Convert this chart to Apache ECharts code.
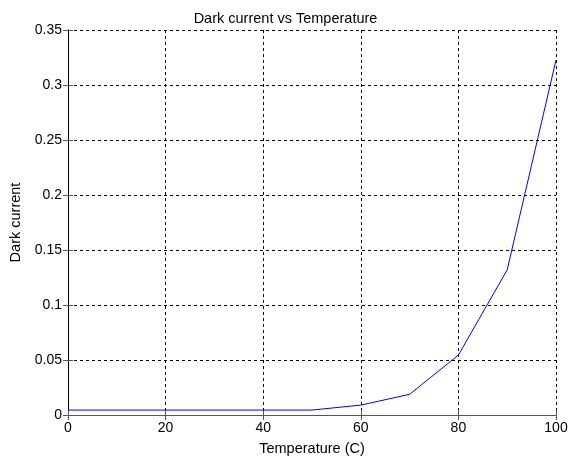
<!DOCTYPE html>
<html><head><meta charset="utf-8">
<script src="https://cdn.jsdelivr.net/npm/echarts@6/dist/echarts.min.js"></script>
<style>html,body{margin:0;padding:0;background:#fff}#c{width:571px;height:462px}</style>
</head><body><div id="c"></div>
<script>
var temperature = [0, 10, 20, 30, 40, 50, 60, 70, 80, 90, 100];
var darkCurrent = [0.0045, 0.0045, 0.0045, 0.0045, 0.0045, 0.0045, 0.009, 0.0188, 0.0545, 0.132, 0.3227];
var xTicks = [0, 20, 40, 60, 80, 100];
var yTicks = [0, 0.05, 0.1, 0.15, 0.2, 0.25, 0.3, 0.35];

var data = temperature.map(function (t, i) { return [t, darkCurrent[i]]; });
var font = 'Liberation Sans, Arial, sans-serif';
var chart = echarts.init(document.getElementById('c'), null, {renderer: 'canvas'});
var axisLine = {show: true, lineStyle: {color: '#555', width: 1}};
chart.setOption({
  animation: false,
  backgroundColor: '#fff',
  title: {text: 'Dark current vs Temperature', left: 'center', top: 6,
    textStyle: {fontFamily: font, fontSize: 14.5, fontWeight: 'normal', color: '#000'}},
  grid: {left: 68, right: 15, top: 30, bottom: 47, containLabel: false, outerBoundsMode: 'none'},
  xAxis: [{
    type: 'value', min: 0, max: 100, interval: 20, position: 'bottom',
    name: 'Temperature (C)', nameLocation: 'middle', nameGap: 26,
    nameTextStyle: {fontFamily: font, fontSize: 14.5, color: '#000'},
    axisLine: axisLine,
    axisTick: {show: true, inside: true, length: 5, lineStyle: {color: '#555'}},
    axisLabel: {fontFamily: font, fontSize: 14, color: '#000', margin: 6},
    splitLine: {show: true, lineStyle: {color: '#000', type: [3, 3], width: 1}}
  }, {
    type: 'value', min: 0, max: 100, interval: 20, position: 'top',
    axisLine: axisLine,
    axisTick: {show: true, inside: true, length: 5, lineStyle: {color: '#555'}},
    axisLabel: {show: false}, splitLine: {show: false}
  }],
  yAxis: [{
    type: 'value', min: 0, max: 0.35, interval: 0.05, position: 'left',
    name: 'Dark current', nameLocation: 'middle', nameGap: 42, nameRotate: 90,
    nameTextStyle: {fontFamily: font, fontSize: 14.5, color: '#000'},
    axisLine: axisLine,
    axisTick: {show: true, inside: true, length: 5, lineStyle: {color: '#555'}},
    axisLabel: {fontFamily: font, fontSize: 14, color: '#000', margin: 6,
      formatter: function (v) { return String(+v.toFixed(2)); }},
    splitLine: {show: true, lineStyle: {color: '#000', type: [3, 3], width: 1}}
  }, {
    type: 'value', min: 0, max: 0.35, interval: 0.05, position: 'right',
    axisLine: {show: true, lineStyle: {color: '#000', width: 1}},
    axisTick: {show: true, inside: true, length: 5, lineStyle: {color: '#555'}},
    axisLabel: {show: false}, splitLine: {show: false}
  }],
  series: [{
    type: 'line', data: data, xAxisIndex: 0, yAxisIndex: 0,
    showSymbol: false, symbol: 'none',
    lineStyle: {color: '#0000ff', width: 1}
  }]
});
</script></body></html>
